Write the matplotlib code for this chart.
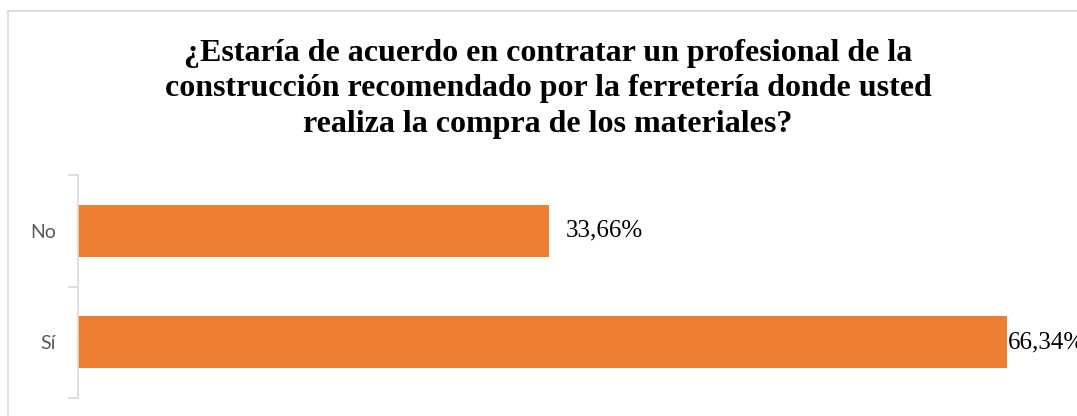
import matplotlib.pyplot as plt
from matplotlib.patches import Rectangle

TITLE = ("¿Estaría de acuerdo en contratar un profesional de la\n"
         "construcción recomendado por la ferretería donde usted\n"
         "realiza la compra de los materiales?")
categories = ["Sí", "No"]
values = [66.34, 33.66]
labels = ["66,34%", "33,66%"]

BAR_COLOR = "#ED7D31"
GRID_GRAY = "#D9D9D9"

W, H = 1077, 416
fig = plt.figure(figsize=(W / 100, H / 100), dpi=100)

# outer chart border (cut off at right and bottom like the source)
fig.patches.append(Rectangle((8 / W, -0.1), 1.2, 1.1 - 11 / H, transform=fig.transFigure,
                             fill=False, edgecolor=GRID_GRAY, linewidth=1.2))

ax = fig.add_axes([78 / W, 18 / H, (W - 78) / W, 223 / H])
ax.barh(range(len(categories)), values, height=0.47, color=BAR_COLOR)
xmax = (W - 78) / 14
ax.set_xlim(0, xmax)
ax.set_ylim(-0.5, len(categories) - 0.5)

for i, (v, lab) in enumerate(zip(values, labels)):
    # the long bar's label gets squeezed against the bar end, as in the source
    pad = 1.2 if v + 8 < xmax else 0.1
    ax.text(v + pad, i, lab, va="center", ha="left", fontsize=18,
            family="Liberation Serif", color="#000000", clip_on=False)

for s in ["top", "right", "bottom"]:
    ax.spines[s].set_visible(False)
ax.spines["left"].set_color(GRID_GRAY)
ax.spines["left"].set_linewidth(1.2)
ax.set_xticks([])
ax.set_yticks([-0.5, 0.5, 1.5])
ax.set_yticklabels([])
ax.tick_params(axis="y", which="major", length=7, color=GRID_GRAY, width=1.2)
ax.set_yticks(range(len(categories)), minor=True)
ax.set_yticklabels(categories, minor=True, fontsize=14, family="Lato", color="#595959")
ax.tick_params(axis="y", which="minor", length=0, pad=16)

fig.text(548 / W, 1 - 39 / H, TITLE, ha="center", va="top", fontsize=23,
         family="Liberation Serif", fontweight="bold", linespacing=1.29)

fig.savefig("out.png", dpi=100)
